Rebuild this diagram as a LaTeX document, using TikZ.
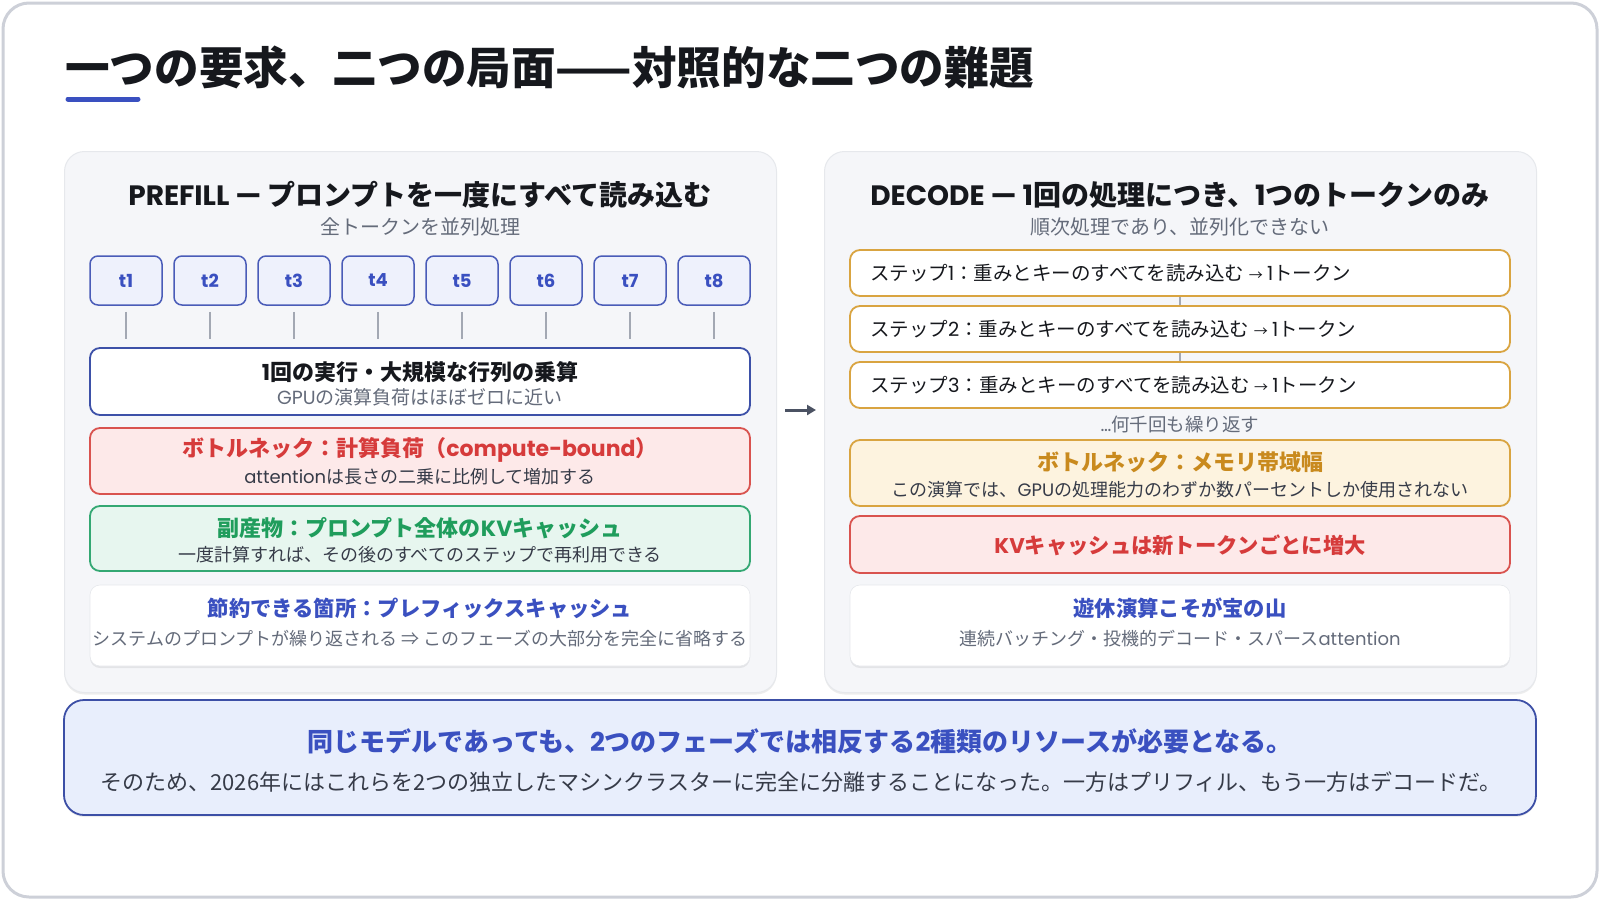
\documentclass[tikz,border=0pt]{standalone}
\usepackage{fontspec}
\setmainfont{Noto Sans CJK JP}
\newfontfamily\popf{Poppins}
\newcommand\pp[1]{{\popf #1}}
\usetikzlibrary{shadows,arrows.meta}
\definecolor{frameborder}{HTML}{CDD0D8}
\definecolor{pnlfill}{HTML}{F5F6F9}
\definecolor{pnlborder}{HTML}{E6E8EC}
\definecolor{accent}{HTML}{3A50C0}
\definecolor{tokfill}{HTML}{EEF1FC}
\definecolor{tokborder}{HTML}{4A5CB8}
\definecolor{execborder}{HTML}{3D51A8}
\definecolor{redfill}{HTML}{FDE9E9}
\definecolor{redborder}{HTML}{D9534F}
\definecolor{redtext}{HTML}{D63B3B}
\definecolor{greenfill}{HTML}{E7F6EF}
\definecolor{greenborder}{HTML}{34A873}
\definecolor{greentext}{HTML}{1F9D5C}
\definecolor{amberfill}{HTML}{FDF3DF}
\definecolor{amberborder}{HTML}{D9A441}
\definecolor{ambertext}{HTML}{C98A1E}
\definecolor{botfill}{HTML}{E8EEFC}
\definecolor{botborder}{HTML}{3C4FA6}
\definecolor{txtblack}{HTML}{16181D}
\definecolor{txtdark}{HTML}{363B48}
\definecolor{txtgray}{HTML}{646B7A}
\definecolor{linegray}{HTML}{A3A8B3}
\definecolor{arrowgray}{HTML}{4B5263}
\tikzset{
  softshadow/.style={drop shadow={shadow xshift=0pt,shadow yshift=-2pt,opacity=0.07,fill=black}},
  panel/.style={draw=pnlborder,line width=1pt,fill=pnlfill,rounded corners=20pt,minimum width=712pt,minimum height=541pt,anchor=north west,inner sep=0pt,softshadow},
  token/.style={draw=tokborder,line width=1.5pt,fill=tokfill,rounded corners=8pt,minimum width=72pt,minimum height=49pt,inner sep=0pt,text=accent,font=\fontsize{18}{21}\selectfont\popf\bfseries},
  box/.style={rounded corners=10pt,line width=1.8pt,minimum width=660pt,inner sep=0pt},
  execbox/.style={box,draw=execborder,fill=white},
  redbox/.style={box,draw=redborder,fill=redfill},
  greenbox/.style={box,draw=greenborder,fill=greenfill},
  amberbox/.style={box,draw=amberborder,fill=amberfill},
  plainbox/.style={box,fill=white,draw=pnlborder,line width=0.6pt,softshadow},
  stepbox/.style={box,draw=amberborder,fill=white,minimum height=46pt},
  hdr/.style={inner sep=0pt,text=txtblack,font=\fontsize{28}{33}\selectfont\bfseries},
  hsub/.style={inner sep=0pt,text=txtgray,font=\fontsize{20}{24}\selectfont},
  ttl/.style={inner sep=0pt,font=\fontsize{22}{26}\selectfont\bfseries},
  ttlb/.style={inner sep=0pt,font=\fontsize{21.3}{26}\selectfont\bfseries},
  sub/.style={inner sep=0pt,text=txtdark,font=\fontsize{18}{21}\selectfont},
  steptxt/.style={inner sep=0pt,anchor=west,text=txtblack,font=\fontsize{19.5}{23}\selectfont},
  tokline/.style={draw=linegray,line width=1.6pt,shorten <=6pt,shorten >=8pt},
  stepline/.style={draw=linegray,line width=1.6pt},
  midarrow/.style={draw=arrowgray,line width=3pt,-{Triangle[length=9pt,width=10pt]},shorten <=8pt,shorten >=8pt}
}
\newcommand\smallarrow{{\fontsize{14}{14}\selectfont →}}
\begin{document}
\begin{tikzpicture}[x=1pt,y=-1pt]
\useasboundingbox (0,0) rectangle (1600,900);
% outer frame
\draw[draw=frameborder,line width=3pt,fill=white,rounded corners=26pt] (3,3) rectangle (1597,897);
% title
\node[anchor=west,inner sep=0pt,text=txtblack,font=\fontsize{44.6}{52}\selectfont\bfseries] (title) at (65,68) {一つの要求、二つの局面——対照的な二つの難題};
\draw[accent,line width=5pt,line cap=round] (68,99) -- (138,99);
% panels
\node[panel] (lp) at (64,151) {};
\node[panel] (rp) at (824,151) {};
% left panel
\node[hdr] (lh) at (420,195) {\pp{PREFILL — }プロンプトを一度にすべて読み込む};
\node[hsub] (ls) at (420,227) {全トークンを並列処理};
\foreach \i in {1,...,8} {
  \node[token] (t\i) at ({126+84*(\i-1)},280.5) {t\i};
}
\node[execbox,minimum height=67pt] (exec) at (420,381.5) {};
\node[ttl,text=txtblack] (execT) at (420,372) {\pp{1}回の実行・大規模な行列の乗算};
\node[sub,text=txtgray,font=\fontsize{19}{22}\selectfont] (execS) at (420,397) {\pp{GPU}の演算負荷はほぼゼロに近い};
\foreach \i in {1,...,8} {
  \draw[tokline] (t\i.south) -- (t\i.south |- exec.north);
}
\node[redbox,minimum height=66pt] (lred) at (420,461) {};
\node[ttl,text=redtext] (lredT) at (420,450) {ボトルネック：計算負荷（\pp{compute-bound}）};
\node[sub] (lredS) at (420,477) {\pp{attention}は長さの二乗に比例して増加する};
\node[greenbox,minimum height=65pt] (lgreen) at (420,538.5) {};
\node[ttl,text=greentext] (lgreenT) at (420,528) {副産物：プロンプト全体の\pp{KV}キャッシュ};
\node[sub] (lgreenS) at (420,555) {一度計算すれば、その後のすべてのステップで再利用できる};
\node[plainbox,minimum height=81pt] (lwhite) at (420,625.5) {};
\node[ttlb,text=accent] (lwhiteT) at (420,608) {節約できる箇所：プレフィックスキャッシュ};
\node[sub,text=txtgray] (lwhiteS) at (420,639) {システムのプロンプトが繰り返される ⇒ このフェーズの大部分を完全に省略する};
% right panel
\node[hdr] (rh) at (1180,195) {\pp{DECODE — 1}回の処理につき、\pp{1}つのトークンのみ};
\node[hsub] (rs) at (1180,227) {順次処理であり、並列化できない};
\node[stepbox] (s1) at (1180,273) {};
\node[stepbox] (s2) at (1180,329) {};
\node[stepbox] (s3) at (1180,385) {};
\draw[stepline] (s1.south) -- (s2.north);
\draw[stepline] (s2.south) -- (s3.north);
\node[steptxt] (s1T) at (870,273) {ステップ\pp{1}：重みとキーのすべてを読み込む \smallarrow{} \pp{1}トークン};
\node[steptxt] (s2T) at (870,329) {ステップ\pp{2}：重みとキーのすべてを読み込む \smallarrow{} \pp{1}トークン};
\node[steptxt] (s3T) at (870,385) {ステップ\pp{3}：重みとキーのすべてを読み込む \smallarrow{} \pp{1}トークン};
\node[sub,text=txtgray,font=\fontsize{18.5}{22}\selectfont] (rep) at (1180,424) {\pp{…}何千回も繰り返す};
\node[amberbox,minimum height=66pt] (ramber) at (1180,473) {};
\node[ttl,text=ambertext] (ramberT) at (1180,462) {ボトルネック：メモリ帯域幅};
\node[sub] (ramberS) at (1180,490) {この演算では、\pp{GPU}の処理能力のわずか数パーセントしか使用されない};
\node[redbox,minimum height=57pt] (rred) at (1180,544.5) {};
\node[ttlb,text=redtext] (rredT) at (1180,545) {\pp{KV}キャッシュは新トークンごとに増大};
\node[plainbox,minimum height=81pt] (rwhite) at (1180,625.5) {};
\node[ttlb,text=accent] (rwhiteT) at (1180,608) {遊休演算こそが宝の山};
\node[sub,text=txtgray] (rwhiteS) at (1180,639) {連続バッチング・投機的デコード・スパース\pp{attention}};
% arrow between panels
\coordinate (ay) at (0,410);
\draw[midarrow] (lp.east |- ay) -- (rp.west |- ay);
% bottom box
\node[draw=botborder,line width=1.8pt,fill=botfill,rounded corners=20pt,minimum width=1472pt,minimum height=115pt,inner sep=0pt,softshadow] (bot) at (800,757.5) {};
\node[inner sep=0pt,text=accent,font=\fontsize{26}{31}\selectfont\bfseries] (botT) at (800,741) {同じモデルであっても、\pp{2}つのフェーズでは相反する\pp{2}種類のリソースが必要となる。};
\node[inner sep=0pt,text=txtdark,font=\fontsize{22}{26}\selectfont] (botS) at (801,782) {そのため、2026年にはこれらを2つの独立したマシンクラスターに完全に分離することになった。一方はプリフィル、もう一方はデコードだ。};
\end{tikzpicture}
\end{document}
